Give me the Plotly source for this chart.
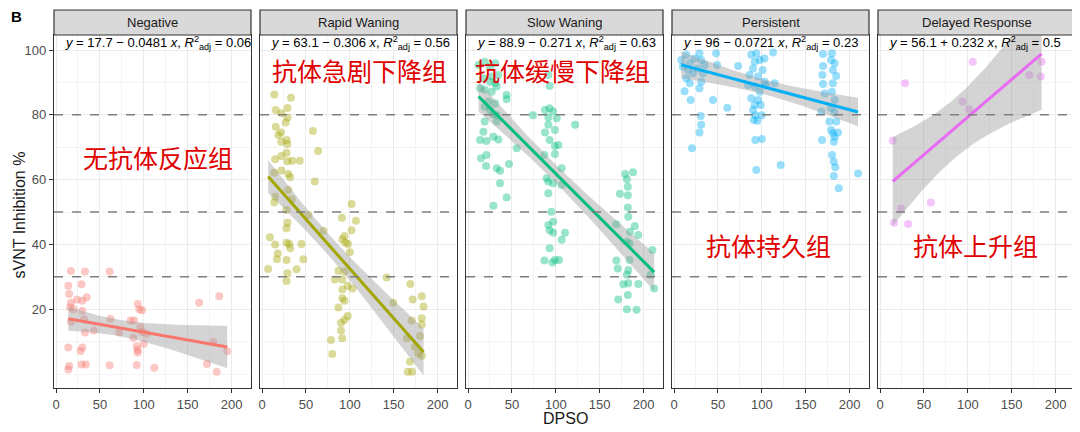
import numpy as np
import plotly.graph_objects as go

# ---------------- data ----------------
groups = ["Negative", "Rapid Waning", "Slow Waning", "Persistent", "Delayed Response"]
colors = ["#F8766D", "#A3A500", "#00BF7D", "#00B0F6", "#E76BF3"]
intercepts = [17.7, 63.1, 88.9, 96.0, 56.1]
slopes = [-0.0481, -0.306, -0.271, -0.0721, 0.232]
r2adj = ["0.06", "0.56", "0.63", "0.23", "0.5"]
labels_cn = ["无抗体反应组", "抗体急剧下降组", "抗体缓慢下降组", "抗体持久组", "抗体上升组"]

neg_x = [17, 33, 61, 14, 29, 15, 35, 24, 30, 17, 16, 20, 30, 17, 32, 33, 43, 62, 72, 14, 30, 28, 15, 14,
         29, 34, 61, 93, 95, 98, 85, 89, 96, 98, 88, 100, 92, 93, 93, 103, 92, 112, 163, 186, 179, 195, 172, 183]
neg_y = [31.8, 31.6, 31.6, 27.2, 27.7, 24.7, 23.7, 23.0, 22.6, 22.0, 20.6, 20.0, 19.5, 16.1, 16.9, 12.8, 13.4,
         17.0, 12.8, 8.2, 8.2, 7.1, 2.5, 1.4, 2.9, 2.9, 2.7, 21.6, 20.0, 19.7, 16.5, 16.5, 14.4, 13.0, 11.2, 9.3,
         8.6, 7.4, 6.6, 12.4, 2.8, 1.9, 22.0, 24.0, 9.9, 7.0, 3.1, 0.7]

rap_x = [14, 33, 15.6, 29, 22, 29, 27, 15.6, 58, 21.6, 18.6, 28, 29, 22, 64, 28, 22, 15, 29, 34.5, 43, 22, 14,
         30, 32, 60, 30, 15, 14, 34, 28, 53, 102, 91, 107, 29, 28, 102, 70, 9, 94, 91.5, 95, 15, 28, 31, 32, 45,
         98, 100, 18, 17, 28, 47, 7, 39.5, 29, 28, 87, 94, 83, 91.5, 97.6, 103, 91.5, 91.5, 94, 87, 97.6, 94, 90,
         90, 91.5, 78.6, 80, 142, 149.5, 169, 171.6, 182, 184, 170.5, 182, 182, 165, 180, 174, 178, 182, 168.5,
         166, 171]
rap_y = [86.3, 85.3, 81.5, 82.1, 80.5, 79.2, 77.6, 76.3, 75.0, 74.5, 73.8, 72.2, 71.0, 71.7, 68.8, 68.3, 67.3,
         66.3, 65.7, 65.8, 65.8, 62.8, 62.1, 61.7, 60.7, 59.4, 56.8, 54.7, 52.9, 53.9, 50.6, 49.1, 52.5, 48.2,
         47.3, 46.7, 45.0, 44.4, 44.2, 42.2, 42.6, 41.6, 40.5, 40.0, 40.5, 40.1, 38.8, 40.1, 40.1, 37.6, 37.2,
         35.4, 35.2, 35.4, 32.4, 32.3, 31.1, 28.7, 31.9, 31.6, 29.2, 29.2, 27.2, 26.4, 26.1, 23.4, 22.6, 20.5,
         17.9, 16.7, 15.8, 13.4, 11.0, 10.5, 6.2, 29.8, 22.0, 27.8, 23.0, 24.0, 20.8, 16.5, 17.2, 15.3, 11.0,
         11.7, 8.4, 6.4, 5.6, 3.8, 0.7, 0.7]

slo_x = [12, 19, 25, 31, 34.5, 27, 17.5, 25, 31, 13.7, 19, 27, 32.7, 44, 44, 91.5, 93, 23, 31, 19, 25, 29, 32.7,
         74, 87.7, 93, 97, 101, 91.5, 19, 32.7, 91.5, 122, 17.5, 87.7, 99, 29, 34.5, 13.7, 21, 93, 103, 99, 55.5,
         21, 87, 99, 14.8, 20.5, 46.7, 32.7, 36.5, 106.7, 89.6, 91.5, 97, 106.7, 36.5, 44, 91.5, 29, 95, 97, 91.5,
         93, 97, 110.5, 106.7, 93, 87, 96, 103.6, 99, 179, 188, 181, 182, 173, 182, 182, 182.6, 169, 190, 184.5,
         194, 181, 184, 210, 169, 170.5, 184, 182.6, 181, 177, 182.6, 194, 208, 212, 171, 182, 181, 192]
slo_y = [95.4, 96.4, 94.9, 95.9, 92.3, 91.8, 91.3, 90.2, 89.7, 88.2, 87.7, 87.1, 88.7, 86.1, 84.8, 92.3, 88.9,
         84.0, 83.5, 82.5, 81.5, 80.2, 79.9, 79.9, 81.5, 82.0, 81.0, 78.9, 79.2, 77.9, 77.9, 76.9, 76.9, 74.8,
         74.5, 75.3, 73.2, 72.4, 72.2, 71.9, 72.2, 70.7, 70.4, 69.7, 67.6, 67.6, 67.9, 66.6, 64.2, 64.8, 63.5,
         62.7, 63.5, 60.4, 59.4, 58.9, 58.3, 58.9, 54.5, 55.8, 51.9, 50.1, 47.0, 46.0, 44.4, 43.6, 43.6, 41.4,
         38.8, 35.0, 34.4, 35.2, 35.2, 61.7, 62.3, 60.1, 57.8, 55.6, 55.2, 51.4, 48.5, 46.2, 45.7, 43.9, 42.9,
         40.8, 40.3, 38.3, 35.0, 32.6, 35.2, 32.1, 30.6, 27.7, 28.0, 27.8, 30.6, 26.4, 23.0, 24.4, 20.0, 19.8]

per_x = [8.3, 14, 18, 23.5, 29, 31, 35, 27, 16, 10, 21.6, 33, 14, 31, 18, 29, 12, 19, 48, 49, 44.4, 60.7, 30.4,
         31, 29, 20.5, 73, 88, 93.7, 92, 97.6, 103, 90, 101, 86, 95.7, 112.8, 84.3, 92, 103, 105, 114.7, 97.6, 88,
         95.7, 92, 98.7, 90, 92.6, 100, 91, 95, 92.6, 100, 93.7, 121.5, 169.7, 180, 179, 183, 169.7, 181, 169,
         184.8, 169.7, 181, 171.6, 180, 183, 167.8, 179, 183, 177, 184.8, 179, 181, 186.8, 183, 168.6, 182, 180,
         182, 183.7, 182, 209.6, 187.6]
per_y = [96.9, 98.5, 95.9, 97.4, 99.0, 96.9, 95.4, 94.3, 93.8, 94.8, 92.8, 92.8, 91.3, 90.2, 89.7, 88.2, 87.3,
         84.6, 99.0, 95.4, 84.6, 82.2, 79.6, 76.9, 74.5, 69.7, 95.1, 98.5, 99.0, 96.4, 96.9, 97.4, 94.3, 93.8,
         92.3, 91.8, 99.2, 89.2, 88.7, 90.2, 89.2, 89.7, 87.1, 85.1, 84.6, 83.0, 83.0, 81.5, 79.9, 79.9, 78.4,
         78.2, 72.2, 72.5, 63.0, 64.5, 98.8, 99.0, 96.9, 95.9, 95.1, 93.8, 92.3, 92.0, 89.5, 89.7, 86.6, 87.1,
         84.6, 81.0, 82.0, 80.7, 77.9, 77.9, 75.3, 74.3, 74.5, 73.2, 72.2, 71.7, 67.6, 65.5, 63.8, 61.1, 61.9,
         57.3]

del_x = [105.6, 28.5, 94.2, 101.7, 170, 183, 184, 14.5, 58, 24, 16, 32]
del_y = [96.4, 89.7, 84.0, 81.7, 92.3, 91.8, 96.4, 72.0, 52.9, 51.1, 46.7, 46.3]

xs_all = [neg_x, rap_x, slo_x, per_x, del_x]
ys_all = [neg_y, rap_y, slo_y, per_y, del_y]

x_ticks = [0, 50, 100, 150, 200]
x_minor = [25, 75, 125, 175]
y_ticks = [20, 40, 60, 80, 100]
y_minor = [0, 10, 30, 50, 70, 90]
hlines = [80, 50, 30]

# ---------------- layout geometry ----------------
# the page body adds an 8px margin, so the figure is 8px smaller and positions are shifted
OFF = 8
W, H = 1080 - OFF, 432 - OFF
ml, mr, mt, mb = 54 - OFF, 5, 35 - OFF, 44
pw = W - ml - mr
ph = H - mt - mb
panel_w = 197
step = 206
xr = [-2.28, 222.1]
yr = [-4.32, 104.63]
strip_h = 25 / ph
FONT = "Liberation Sans, Arial"

fig = go.Figure()
annotations = []
shapes = []

for i, g in enumerate(groups):
    n = i + 1
    sfx = "" if n == 1 else str(n)
    xa, ya = "x" + sfx, "y" + sfx
    x = np.array(xs_all[i], float)
    y = np.array(ys_all[i], float)
    a, b = intercepts[i], slopes[i]

    # confidence band around the stated fit
    nn = len(x)
    resid = y - (a + b * x)
    s = np.sqrt(np.sum(resid ** 2) / (nn - 2))
    xbar = x.mean()
    sxx = np.sum((x - xbar) ** 2)
    tq = 1.96 + 2.4 / (nn - 2)
    xg = np.linspace(x.min(), x.max(), 80)
    fit = a + b * xg
    se = s * np.sqrt(1 / nn + (xg - xbar) ** 2 / sxx)
    lo, hi = fit - tq * se, fit + tq * se

    fig.add_trace(go.Scatter(x=x, y=y, mode="markers", xaxis=xa, yaxis=ya,
                             marker=dict(color=colors[i], size=8, opacity=0.4, line=dict(width=0)),
                             showlegend=False, hoverinfo="skip"))
    fig.add_trace(go.Scatter(x=np.concatenate([xg, xg[::-1]]), y=np.concatenate([hi, lo[::-1]]),
                             mode="lines", fill="toself", fillcolor="rgba(153,153,153,0.42)",
                             line=dict(width=0), xaxis=xa, yaxis=ya, showlegend=False, hoverinfo="skip"))
    fig.add_trace(go.Scatter(x=xg, y=fit, mode="lines", line=dict(color=colors[i], width=3),
                             xaxis=xa, yaxis=ya, showlegend=False, hoverinfo="skip"))

    left = i * step
    d0, d1 = left / pw, (left + panel_w) / pw
    common_grid = dict(showgrid=True, gridcolor="#EBEBEB", gridwidth=1.1, zeroline=False,
                       showline=True, mirror=True, linecolor="#333333", linewidth=1.2)
    fig.layout["xaxis" + sfx] = dict(domain=[d0, d1], range=xr, anchor=ya, tickmode="array",
                                     tickvals=x_ticks, ticks="outside", ticklen=4, tickcolor="#333333",
                                     tickfont=dict(size=13, color="#4D4D4D", family=FONT),
                                     minor=dict(tickvals=x_minor, showgrid=True, gridcolor="#F4F4F4",
                                                gridwidth=0.6, ticks=""),
                                     **common_grid)
    fig.layout["yaxis" + sfx] = dict(domain=[0, 1], range=yr, anchor=xa, tickmode="array",
                                     tickvals=y_ticks, ticks="outside" if n == 1 else "",
                                     ticklen=4, tickcolor="#333333", showticklabels=(n == 1),
                                     tickfont=dict(size=13, color="#4D4D4D", family=FONT),
                                     minor=dict(tickvals=y_minor, showgrid=True, gridcolor="#F4F4F4",
                                                gridwidth=0.6, ticks=""),
                                     **common_grid)

    for h in hlines:
        shapes.append(dict(type="line", xref=xa + " domain", yref=ya, x0=0, x1=1, y0=h, y1=h,
                           line=dict(color="#7F7F7F", width=1.6, dash="dash"), layer="above"))
    # facet strip
    shapes.append(dict(type="rect", xref=xa + " domain", yref="paper", x0=0, x1=1, y0=1.0, y1=1 + strip_h,
                       fillcolor="#D9D9D9", line=dict(color="#333333", width=1.2), layer="above"))
    annotations.append(dict(text=g, xref=xa + " domain", yref="paper", x=0.5, y=1 + strip_h / 2,
                            showarrow=False, xanchor="center", yanchor="middle",
                            font=dict(size=13, color="#1A1A1A", family=FONT)))
    sign = "−" if b < 0 else "+"
    eq = ("<i>y</i> = %s %s %s <i>x</i>, <i>R</i><sup>2</sup><sub>adj</sub> = %s"
          % ("%g" % a, sign, "%g" % abs(b), r2adj[i]))
    annotations.append(dict(text=eq, xref=xa + " domain", yref=ya, x=0.045, y=102.2, showarrow=False,
                            xanchor="left", yanchor="middle",
                            font=dict(size=13, color="#000000", family=FONT)))

# Chinese group labels
cn_pos = [(116, 67), (110.5, 93.8), (108, 93.8), (107.6, 39.8), (108.8, 39.8)]
for i, (cx, cy) in enumerate(cn_pos):
    sfx = "" if i == 0 else str(i + 1)
    annotations.append(dict(text=labels_cn[i], xref="x" + sfx, yref="y" + sfx, x=cx, y=cy, showarrow=False,
                            xanchor="center", yanchor="middle",
                            font=dict(size=25, color="#E00000", family="Noto Sans CJK SC")))

# axis titles and panel tag (reference pixel positions minus the page offset)
plot_bottom = H - mb
annotations.append(dict(text="sVNT Inhibition %", xref="paper", yref="paper", x=(10.5 - ml) / pw,
                        y=(plot_bottom - (215 - OFF)) / ph, textangle=-90, showarrow=False,
                        xanchor="center", yanchor="middle", borderpad=0,
                        font=dict(size=16, color="#1A1A1A", family=FONT)))
annotations.append(dict(text="DPSO", xref="paper", yref="paper", x=(565 - OFF - ml) / pw,
                        y=-((418 - OFF) - plot_bottom) / ph, showarrow=False, xanchor="center",
                        yanchor="middle", font=dict(size=16, color="#1A1A1A", family=FONT)))
annotations.append(dict(text="<b>B</b>", xref="paper", yref="paper", x=(2 - ml) / pw,
                        y=1 + (mt - (16 - OFF)) / ph, showarrow=False, xanchor="left", yanchor="middle",
                        borderpad=0, font=dict(size=15, color="#000000", family=FONT)))

fig.update_layout(width=W, height=H, margin=dict(l=ml, r=mr, t=mt, b=mb),
                  paper_bgcolor="white", plot_bgcolor="white",
                  annotations=annotations, shapes=shapes, showlegend=False)

fig.write_html("out.html")
